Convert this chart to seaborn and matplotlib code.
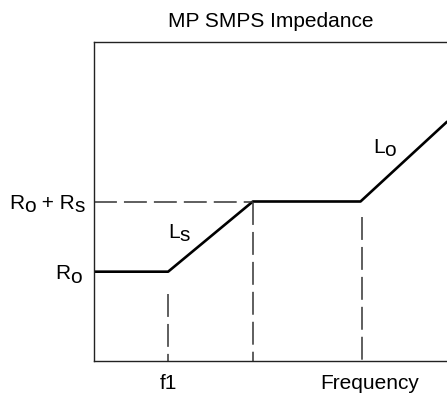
import pandas as pd
import matplotlib.pyplot as plt
import seaborn as sns

# piecewise impedance curve (arbitrary units)
freq = [0, 21, 45, 75.5, 100]
impedance = [28, 28, 50, 50, 75]

# dashed guide lines
guide_x = [21, 45, 76]
guide_top = [21, 50, 45]
level_x_end = 45

tick_x = [21, 78]
tick_x_labels = ["f1", "Frequency"]

# labels with full-size subscripts: (text, is_subscript)
label_ro = [("R", False), ("o", True)]
label_rors = [("R", False), ("o", True), (" + R", False), ("s", True)]
label_ls = [("L", False), ("s", True)]
label_lo = [("L", False), ("o", True)]

FS = 15
SUB_DROP = 2.4  # points


def sub_text(ax, x, y, parts, coords, dy=0):
    prev = ax.annotate(parts[0][0], xy=(x, y), xycoords=coords,
                       xytext=(0, dy), textcoords="offset points",
                       ha="left", va="baseline", fontsize=FS, color="black",
                       annotation_clip=False)
    prev_sub = parts[0][1]
    for s, is_sub in parts[1:]:
        off = 0
        if is_sub and not prev_sub:
            off = -SUB_DROP
        elif prev_sub and not is_sub:
            off = SUB_DROP
        prev = ax.annotate(s, xy=(1, 0), xycoords=prev, xytext=(0, off),
                           textcoords="offset points", ha="left", va="bottom",
                           fontsize=FS, color="black", annotation_clip=False)
        prev_sub = is_sub


sns.set_theme(style="white")
plt.rcParams["font.family"] = ["Liberation Sans", "DejaVu Sans"]
plt.rcParams["text.color"] = "black"
plt.rcParams["xtick.color"] = "black"
plt.rcParams["axes.titlecolor"] = "black"

fig = plt.figure(figsize=(4.47, 3.99), dpi=100)
ax = fig.add_axes([94 / 447, 38 / 399, 353 / 447, 319 / 399])

df = pd.DataFrame({"freq": freq, "impedance": impedance})
sns.lineplot(data=df, x="freq", y="impedance", color="black", linewidth=1.9, ax=ax)

dash = (0, (15, 4.6))
ax.plot([0, level_x_end], [impedance[2], impedance[2]], color="#333333", lw=1.1, linestyle=dash)
for gx, top in zip(guide_x, guide_top):
    ax.plot([gx, gx], [top, 0], color="#333333", lw=1.1, linestyle=dash)

ax.set_xlim(0, 100)
ax.set_ylim(0, 100)

# y labels drawn by hand so the subscripts keep their size
ytr = ax.get_yaxis_transform()
sub_text(ax, -0.1105, impedance[0], label_ro, ytr, dy=-5.4)
sub_text(ax, -0.2408, impedance[2], label_rors, ytr, dy=-5.4)
sub_text(ax, 21, 38.6, label_ls, "data")
sub_text(ax, 79, 65.2, label_lo, "data")

ax.set_xticks(tick_x)
ax.set_xticklabels(tick_x_labels)
ax.set_yticks([])
ax.tick_params(length=0, labelsize=FS)
ax.tick_params(axis="x", pad=9.5)
ax.set_xlabel("")
ax.set_ylabel("")
ax.set_title("MP SMPS Impedance", fontsize=FS, pad=11)

for side in ["left", "bottom", "top"]:
    ax.spines[side].set_color("#222222")
    ax.spines[side].set_linewidth(1.0)
ax.spines["right"].set_visible(False)

fig.savefig("out.png", dpi=100)
